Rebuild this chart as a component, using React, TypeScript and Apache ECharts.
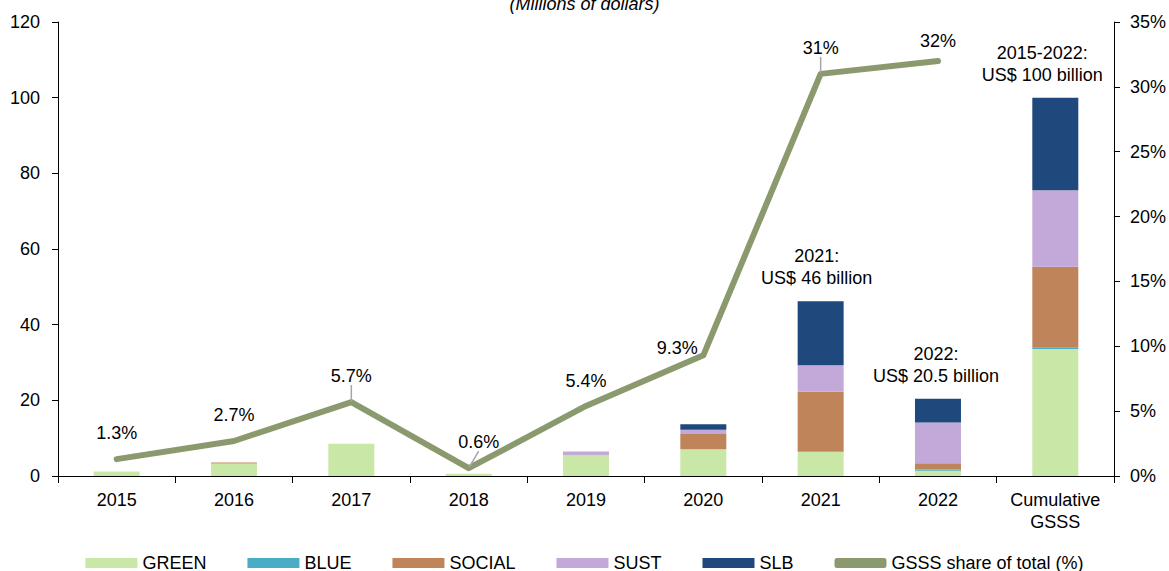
import React, { useEffect, useRef } from "react";
import * as echarts from "echarts";

const categories = ["2015", "2016", "2017", "2018", "2019", "2020", "2021", "2022", "Cumulative\nGSSS"];
const green = [1.2, 3.3, 8.5, 0.6, 5.5, 7.1, 6.4, 1.4, 33.6];
const blue = [0, 0, 0, 0, 0, 0, 0, 0.35, 0.4];
const social = [0, 0.3, 0, 0, 0, 4.0, 15.9, 1.6, 21.3];
const sust = [0, 0, 0, 0, 1.0, 1.1, 7.0, 10.8, 20.2];
const slb = [0, 0, 0, 0, 0, 1.5, 16.9, 6.3, 24.5];
const share = [1.3, 2.7, 5.7, 0.6, 5.4, 9.3, 31, 32, null];
const shareLabels = ["1.3%", "2.7%", "5.7%", "0.6%", "5.4%", "9.3%", "31%", "32%", ""];
const totalNotes = ["", "", "", "", "", "", "2021:\nUS$ 46 billion", "2022:\nUS$ 20.5 billion", "2015-2022:\nUS$ 100 billion"];
const leftTicks = { min: 0, max: 120, interval: 20 };
const rightTicks = { min: 0, max: 35, interval: 5 };

// label placement tweaks (style, not data)
const labelShift: [number, number][] = [
  [0, -11], [0, -11], [0, -11], [10, -11], [0, -10], [-26, 8], [0, -11], [0, -5],
];
const hasLeader = [false, false, true, true, false, false, true, false];
const noteShift: [number, number][] = [
  [0, 0], [0, 0], [0, 0], [0, 0], [0, 0], [0, 0], [-4, 0], [-2, 0], [-13, 0],
];

const FONT = "Liberation Sans, Arial, sans-serif";
const COLORS = {
  green: "#c9e7a7",
  blue: "#4bacc6",
  social: "#c0845a",
  sust: "#c3a9d9",
  slb: "#1f497d",
  line: "#8a9a6e",
};

export default function App() {
  const ref = useRef<HTMLDivElement>(null);
  useEffect(() => {
    if (!ref.current) return;
    const chart = echarts.init(ref.current, undefined, { renderer: "svg" });
    const barBase = {
      type: "bar",
      stack: "total",
      barWidth: 46,
      yAxisIndex: 0,
    };
    const option: any = {
      animation: false,
      textStyle: { fontFamily: FONT },
      title: {
        text: "(Millions of dollars)",
        left: "center",
        top: -10,
        textStyle: { fontFamily: FONT, fontSize: 18, fontStyle: "italic", fontWeight: "normal", color: "#000" },
      },
      grid: { left: 58, right: 55, top: 22, bottom: 95, containLabel: false },
      legend: {
        top: 549,
        left: "center",
        itemWidth: 52,
        itemHeight: 10,
        itemGap: 41,
        textStyle: { fontFamily: FONT, fontSize: 18, color: "#000" },
        data: [
          { name: "GREEN", icon: "rect" },
          { name: "BLUE", icon: "rect" },
          { name: "SOCIAL", icon: "rect" },
          { name: "SUST", icon: "rect" },
          { name: "SLB", icon: "rect" },
          { name: "GSSS share of total (%)", icon: "roundRect" },
        ],
      },
      xAxis: {
        type: "category",
        data: categories,
        axisLine: { lineStyle: { color: "#000", width: 1 } },
        axisTick: { show: true, alignWithLabel: false, length: 7, lineStyle: { color: "#000" } },
        axisLabel: { color: "#000", fontSize: 18, fontFamily: FONT, margin: 13, lineHeight: 22, interval: 0 },
      },
      yAxis: [
        {
          type: "value",
          ...leftTicks,
          axisLine: { show: true, lineStyle: { color: "#000" } },
          axisTick: { show: true, length: 6, lineStyle: { color: "#000" } },
          axisLabel: { color: "#000", fontSize: 18, fontFamily: FONT, margin: 18 },
          splitLine: { show: false },
        },
        {
          type: "value",
          ...rightTicks,
          position: "right",
          axisLine: { show: true, lineStyle: { color: "#000" } },
          axisTick: { show: true, length: 6, lineStyle: { color: "#000" } },
          axisLabel: { color: "#000", fontSize: 18, fontFamily: FONT, margin: 16, formatter: "{value}%" },
          splitLine: { show: false },
        },
      ],
      series: [
        { ...barBase, name: "GREEN", data: green, itemStyle: { color: COLORS.green } },
        { ...barBase, name: "BLUE", data: blue, itemStyle: { color: COLORS.blue } },
        { ...barBase, name: "SOCIAL", data: social, itemStyle: { color: COLORS.social } },
        { ...barBase, name: "SUST", data: sust, itemStyle: { color: COLORS.sust } },
        {
          ...barBase,
          name: "SLB",
          itemStyle: { color: COLORS.slb },
          data: slb.map((v, i) =>
            totalNotes[i]
              ? {
                  value: v,
                  label: {
                    show: true,
                    position: "top",
                    distance: 12,
                    offset: noteShift[i],
                    formatter: totalNotes[i],
                    color: "#000",
                    fontSize: 18,
                    fontFamily: FONT,
                    lineHeight: 22,
                    align: "center",
                  },
                }
              : v
          ),
        },
        {
          type: "line",
          name: "GSSS share of total (%)",
          yAxisIndex: 1,
          z: 10,
          symbol: "circle",
          symbolSize: 2,
          showSymbol: true,
          showAllSymbol: true,
          itemStyle: { color: COLORS.line },
          lineStyle: { color: COLORS.line, width: 6, cap: "round", join: "round" },
          label: {
            show: true,
            position: "top",
            distance: 5,
            color: "#000",
            fontSize: 18,
            fontFamily: FONT,
            formatter: (p: any) => shareLabels[p.dataIndex],
          },
          labelLine: { show: true, lineStyle: { color: "#a6a6a6", width: 1.5 } },
          labelLayout: (p: any) => {
            const s = labelShift[p.dataIndex] || [0, 0];
            return { dx: s[0], dy: s[1] };
          },
          data: share.map((v, i) => ({
            value: v,
            labelLine: { show: hasLeader[i] },
          })),
        },
      ],
    };
    chart.setOption(option);
    return () => chart.dispose();
  }, []);
  return (
    <div
      ref={ref}
      style={{ position: "absolute", left: 0, top: 0, width: 1169, height: 571 }}
    />
  );
}
